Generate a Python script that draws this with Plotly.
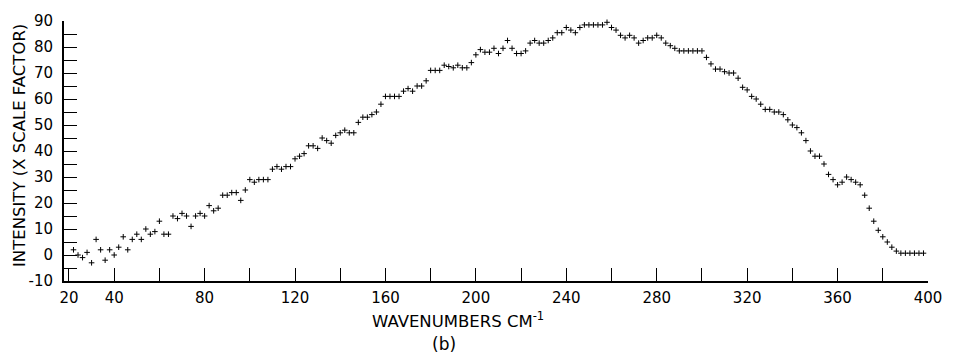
import plotly.graph_objects as go

# Far-infrared spectrum (b): intensity sampled every 2 cm-1
wavenumber_start = 22
wavenumber_step = 2
intensity = [
    2, 0, -1, 1, -3, 6, 2, -2, 2, 0,              # 22-40
    3, 7, 2, 6, 8, 6, 10, 8, 9, 13,               # 42-60
    8, 8, 15, 14, 16, 15, 11, 15, 16, 15,         # 62-80
    19, 17, 18, 23, 23, 24, 24, 21, 25, 29,       # 82-100
    28, 29, 29, 29, 33, 34, 33, 34, 34, 37,       # 102-120
    38, 39, 42, 42, 41, 45, 44, 43, 46, 47,       # 122-140
    48, 47, 47, 51, 53, 53, 54, 55, 58, 61,       # 142-160
    61, 61, 61, 63, 64, 63, 65, 65, 67, 71,       # 162-180
    71, 71, 73, 72.5, 72, 73, 72, 72, 74, 77,     # 182-200
    79, 78, 78, 79.5, 77.5, 79.5, 82.5, 79.5, 77.5, 77.5,  # 202-220
    78.5, 81.5, 82.5, 81.5, 81.5, 82.5, 83.5, 85.5, 85.5, 87.5,  # 222-240
    86.5, 85.5, 87.5, 88.5, 88.5, 88.5, 88.5, 88.5, 89.5, 87.5,  # 242-260
    86.5, 84.5, 83.5, 84.5, 83.5, 81.5, 82.5, 83.5, 83.5, 84.5,  # 262-280
    83.5, 81.5, 80.5, 79.5, 78.5, 78.5, 78.5, 78.5, 78.5, 78.5,  # 282-300
    76, 73.5, 71.5, 71.5, 70.5, 70, 70, 68, 64.5, 63.5,          # 302-320
    61, 60, 58, 56, 56, 55, 55, 54, 52, 50,                      # 322-340
    49, 47, 44, 40, 38, 38, 35, 31, 29, 27,                      # 342-360
    28, 30, 29, 28, 27, 23, 18, 13, 9.5, 7,                      # 362-380
    5, 3, 1.5, 0.7, 0.7, 0.7, 0.7, 0.7, 0.7,                     # 382-398
]
wavenumbers = [wavenumber_start + wavenumber_step * i for i in range(len(intensity))]

# Labelled ticks; unlabelled ones are drawn as minor ticks
x_tick_values = [20, 40, 80, 120, 160, 200, 240, 280, 320, 360, 400]
x_tick_labels = [str(v) for v in x_tick_values]
y_tick_values = list(range(-10, 91, 10))
y_tick_labels = [str(v) for v in y_tick_values]

x_title = "WAVENUMBERS CM<sup>-1</sup>"
y_title = "INTENSITY (X SCALE FACTOR)"
panel_label = "(b)"

font_family = "DejaVu Sans, Liberation Sans, sans-serif"

fig = go.Figure(
    go.Scatter(
        x=wavenumbers,
        y=intensity,
        mode="markers",
        marker=dict(symbol="cross-thin", size=4,
                    line=dict(width=1, color="black"), color="black"),
        cliponaxis=False,
        showlegend=False,
    )
)

axis_common = dict(
    showline=True, linecolor="black", linewidth=2,
    ticks="inside", ticklen=13, tickwidth=1.4, tickcolor="black",
    showgrid=False, zeroline=False,
    tickfont=dict(family=font_family, size=15, color="black"),
)

fig.update_xaxes(range=[17.8, 400], tickmode="array", tickvals=x_tick_values,
                 ticktext=x_tick_labels, ticklabelstandoff=2,
                 minor=dict(ticks="inside", tick0=20, dtick=20, ticklen=13,
                            tickwidth=1.4, tickcolor="black", showgrid=False),
                 **axis_common)
fig.update_yaxes(range=[-10, 90], tickmode="array", tickvals=y_tick_values,
                 ticktext=y_tick_labels, ticklabelstandoff=6,
                 minor=dict(ticks="inside", tick0=-10, dtick=5, ticklen=13,
                            tickwidth=1.4, tickcolor="black", showgrid=False),
                 **axis_common)

fig.update_layout(
    width=954, height=358,
    margin=dict(l=64, r=21, t=17, b=77),
    paper_bgcolor="white", plot_bgcolor="white",
    font=dict(family=font_family, color="black"),
    annotations=[
        dict(text=y_title, textangle=-90, xref="paper", yref="paper",
             x=-0.0506, y=0.52, xanchor="center", yanchor="middle",
             showarrow=False, font=dict(size=16.5, family=font_family)),
        dict(text=x_title, xref="paper", yref="paper",
             x=(460 - 64) / 868.7, y=-(321 - 281) / 264.0,
             xanchor="center", yanchor="middle", showarrow=False,
             font=dict(size=16.5, family=font_family)),
        dict(text=panel_label, xref="paper", yref="paper",
             x=(446 - 64) / 868.7, y=-(345 - 281) / 264.0,
             xanchor="center", yanchor="middle", showarrow=False,
             font=dict(size=17, family=font_family)),
    ],
)

fig.write_html("out.html")
